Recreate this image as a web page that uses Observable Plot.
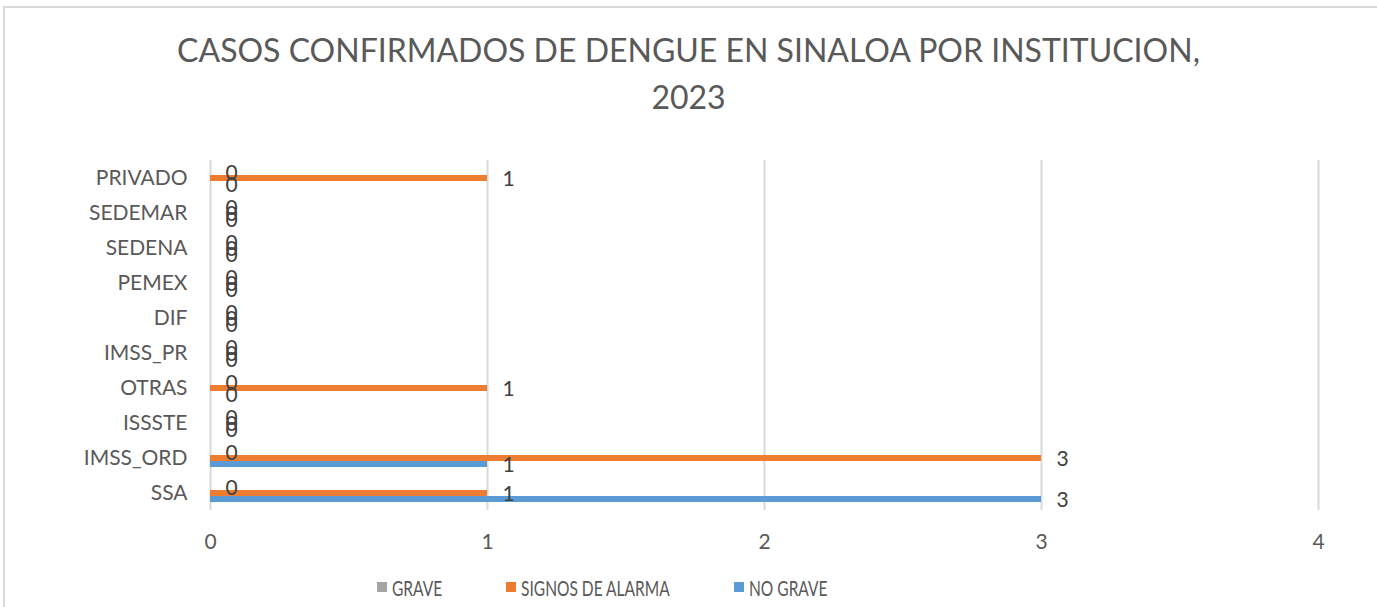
<!DOCTYPE html>
<html>
<head>
<meta charset="utf-8">
<script src="https://cdn.jsdelivr.net/npm/d3@7"></script>
<script src="https://cdn.jsdelivr.net/npm/@observablehq/plot@0.6"></script>
<style>
  html, body { margin: 0; padding: 0; background: #fff; overflow: hidden; }
  #wrap { position: relative; width: 1377px; height: 607px; font-family: Lato, "Open Sans", sans-serif; }
  #frame { position: absolute; left: 3px; top: 6px; width: 1400px; height: 640px; border: 2px solid #d9d9d9; box-sizing: border-box; pointer-events: none; }
  #title { position: absolute; left: 0; width: 1377px; top: 26px; text-align: center; font-size: 32px; line-height: 47px; color: #595959; }
  #chart { position: absolute; left: 0; top: 0; }
  #legend { position: absolute; left: 0; top: 574px; width: 1377px; height: 26px; font-size: 21px; color: #595959; }
  #legend .item { position: absolute; top: 0; height: 26px; display: flex; align-items: center; white-space: nowrap; }
  #legend .sw { width: 10px; height: 10px; display: inline-block; margin-right: 5px; }
  #legend .lbl { display: inline-block; transform: scaleX(0.74); transform-origin: left center; }
</style>
</head>
<body>
<div id="wrap">
  <div id="frame"></div>
  <div id="chart"></div>
  <div id="title">CASOS CONFIRMADOS DE DENGUE EN SINALOA POR INSTITUCION,<br>2023</div>
  <div id="legend"></div>
</div>
<script>
// Categories (bottom to top as in the reference)
const categories = ["SSA", "IMSS_ORD", "ISSSTE", "OTRAS", "IMSS_PR", "DIF", "PEMEX", "SEDENA", "SEDEMAR", "PRIVADO"];
// Series
const seriesNames = ["GRAVE", "SIGNOS DE ALARMA", "NO GRAVE"];
const seriesColors = ["#a5a5a5", "#ed7d31", "#5b9bd5"];
// Values per category
const grave          = [0, 0, 0, 0, 0, 0, 0, 0, 0, 0];
const signosDeAlarma = [1, 3, 0, 1, 0, 0, 0, 0, 0, 1];
const noGrave        = [3, 1, 0, 0, 0, 0, 0, 0, 0, 0];
// Axis ticks
const xTicks = [0, 1, 2, 3, 4];

const seriesValues = [grave, signosDeAlarma, noGrave];
const data = [];
categories.forEach((c, i) => {
  seriesNames.forEach((s, j) => {
    data.push({cat: c, series: s, value: seriesValues[j][i]});
  });
});

const textColor = "#595959";

const chart = Plot.plot({
  width: 1377,
  height: 607,
  marginTop: 158,
  marginBottom: 95,
  marginLeft: 210,
  marginRight: 59,
  style: {fontFamily: "Lato, 'Open Sans', sans-serif", background: "transparent"},
  x: {domain: [0, 4], label: null},
  y: {domain: seriesNames, axis: null, paddingInner: 0, paddingOuter: 1.02},
  fy: {domain: categories.slice().reverse(), padding: 0, label: null},
  color: {domain: seriesNames, range: seriesColors},
  marks: [
    Plot.gridX(xTicks, {stroke: "#d9d9d9", strokeOpacity: 1, strokeWidth: 2}),
    Plot.axisX({ticks: xTicks, tickFormat: d3.format("d"), tickSize: 0, tickPadding: 24, fontSize: 21, fill: textColor, label: null}),
    Plot.axisFy({anchor: "left", tickSize: 0, tickPadding: 23, fontSize: 21, fill: textColor, label: null}),
    Plot.barX(data, {fy: "cat", y: "series", x: "value", fill: "series"}),
    Plot.text(data, {fy: "cat", y: "series", x: "value", text: d => String(d.value), dx: 21, dy: 1, fontSize: 21, fill: "#404040", textAnchor: "middle"})
  ]
});
document.getElementById("chart").appendChild(chart);

// Legend layout (left edges of the legend entries)
const legendLeft = [377, 506, 734];
const legend = document.getElementById("legend");
seriesNames.forEach((s, i) => {
  const item = document.createElement("div");
  item.className = "item";
  item.style.left = legendLeft[i] + "px";
  const sw = document.createElement("span");
  sw.className = "sw";
  sw.style.background = seriesColors[i];
  const t = document.createElement("span");
  t.className = "lbl";
  t.textContent = s;
  item.appendChild(sw);
  item.appendChild(t);
  legend.appendChild(item);
});
</script>
</body>
</html>
